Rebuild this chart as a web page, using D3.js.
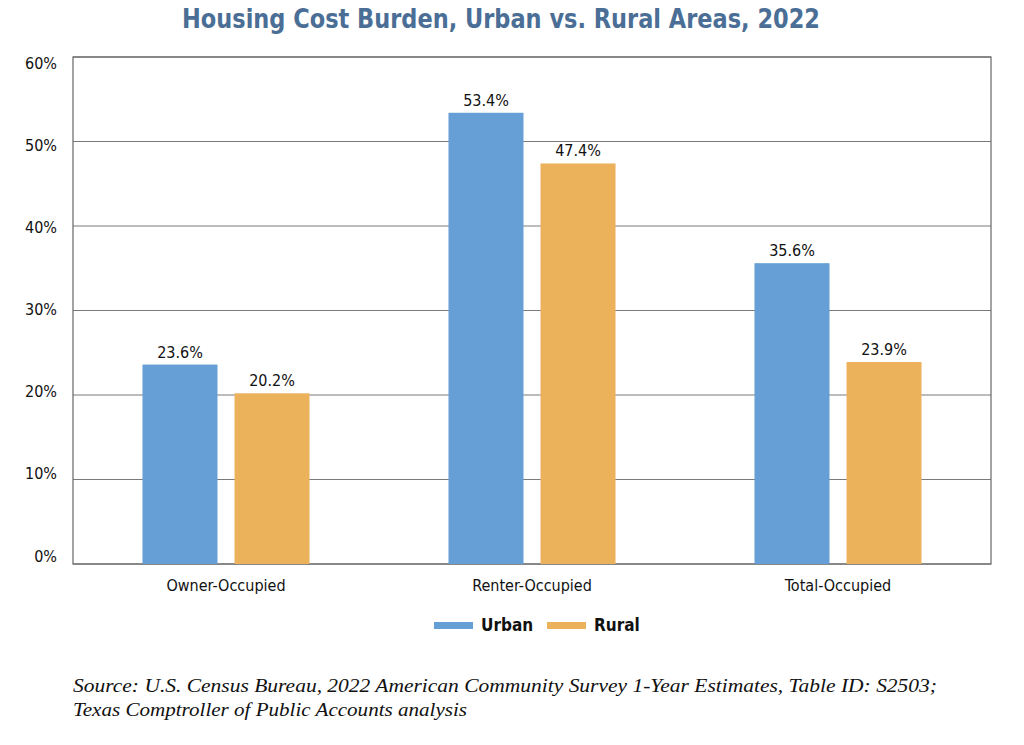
<!DOCTYPE html>
<html>
<head>
<meta charset="utf-8">
<script src="https://cdn.jsdelivr.net/npm/d3@7"></script>
<style>
  body { margin: 0; background: #fff; }
  svg { display: block; }
</style>
</head>
<body>
<div id="chart"></div>
<script>
const categories = ["Owner-Occupied", "Renter-Occupied", "Total-Occupied"];
const seriesNames = ["Urban", "Rural"];
const urbanValues = [23.6, 53.4, 35.6];
const ruralValues = [20.2, 47.4, 23.9];
const yTicks = [0, 10, 20, 30, 40, 50, 60];

function drawChart() {
  const width = 1024;
  const height = 745;
  const margin = { top: 57, right: 33, bottom: 181, left: 73 };
  const colors = { Urban: "#659fd5", Rural: "#ecb15b" };
  const labelFont = "'Liberation Sans Narrow', 'DejaVu Sans Condensed', 'Open Sans', sans-serif";

  const svg = d3.select("#chart")
    .append("svg")
    .attr("width", width)
    .attr("height", height);

  const rows = categories.map((c, i) => ({
    category: c,
    values: [
      { key: "Urban", value: urbanValues[i] },
      { key: "Rural", value: ruralValues[i] }
    ]
  }));

  const x0 = d3.scaleBand()
    .domain(categories)
    .range([margin.left, width - margin.right]);

  const x1 = d3.scaleBand()
    .domain(seriesNames)
    .range([0, x0.bandwidth()])
    .paddingInner(0.185)
    .paddingOuter(0.755);

  const y = d3.scaleLinear()
    .domain([0, 60])
    .range([height - margin.bottom, margin.top]);

  // tick labels sit a little inside the frame at top and bottom
  const yLabel = d3.scaleLinear()
    .domain([0, 60])
    .range([height - margin.bottom - 8, margin.top + 6]);

  // gridlines
  svg.append("g")
    .selectAll("line")
    .data(yTicks)
    .join("line")
    .attr("x1", margin.left)
    .attr("x2", width - margin.right)
    .attr("y1", d => y(d))
    .attr("y2", d => y(d))
    .attr("stroke", "#7a7a7a")
    .attr("stroke-width", 1.2);

  // frame
  svg.append("rect")
    .attr("x", margin.left)
    .attr("y", margin.top)
    .attr("width", width - margin.left - margin.right)
    .attr("height", height - margin.top - margin.bottom)
    .attr("fill", "none")
    .attr("stroke", "#666")
    .attr("stroke-width", 1.2);

  // bars
  const groups = svg.append("g")
    .selectAll("g")
    .data(rows)
    .join("g")
    .attr("transform", d => `translate(${x0(d.category)},0)`);

  groups.selectAll("rect")
    .data(d => d.values)
    .join("rect")
    .attr("x", d => x1(d.key))
    .attr("y", d => y(d.value))
    .attr("width", x1.bandwidth())
    .attr("height", d => y(0) - y(d.value))
    .attr("fill", d => colors[d.key]);

  groups.selectAll("text")
    .data(d => d.values)
    .join("text")
    .attr("x", d => x1(d.key) + x1.bandwidth() / 2)
    .attr("y", d => y(d.value) - 7)
    .attr("text-anchor", "middle")
    .style("font-family", labelFont)
    .style("font-size", "16px")
    .style("fill", "#111")
    .text(d => d.value.toFixed(1) + "%");

  // y axis labels
  const yAxis = svg.append("g")
    .attr("transform", `translate(${margin.left},0)`)
    .call(d3.axisLeft(yLabel).tickValues(yTicks).tickSize(0).tickPadding(16).tickFormat(d => d + "%"));
  yAxis.select(".domain").remove();
  yAxis.selectAll("text")
    .style("font-family", labelFont)
    .style("font-size", "16px")
    .style("fill", "#111");

  // x axis labels
  const xAxis = svg.append("g")
    .attr("transform", `translate(0,${height - margin.bottom})`)
    .call(d3.axisBottom(x0).tickSize(0).tickPadding(16));
  xAxis.select(".domain").remove();
  xAxis.selectAll("text")
    .style("font-family", labelFont)
    .style("font-size", "16px")
    .style("fill", "#111");

  // title
  svg.append("text")
    .attr("x", 501)
    .attr("y", 28)
    .attr("text-anchor", "middle")
    .attr("textLength", 638)
    .attr("lengthAdjust", "spacingAndGlyphs")
    .style("font-family", labelFont)
    .style("font-weight", "bold")
    .style("font-size", "27px")
    .style("fill", "#4a6e95")
    .text("Housing Cost Burden, Urban vs. Rural Areas, 2022");

  // legend
  const legend = svg.append("g").attr("transform", "translate(434,625)");
  const legendX = { Urban: 0, Rural: 113 };
  seriesNames.forEach(name => {
    legend.append("rect")
      .attr("x", legendX[name])
      .attr("y", -3)
      .attr("width", 39)
      .attr("height", 7)
      .attr("fill", colors[name]);
    legend.append("text")
      .attr("x", legendX[name] + 47)
      .attr("y", 6)
      .style("font-family", labelFont)
      .style("font-weight", "bold")
      .style("font-size", "17px")
      .style("fill", "#111")
      .text(name);
  });

  // source note
  const src = svg.append("text")
    .style("font-family", "'Liberation Serif', 'DejaVu Serif', serif")
    .style("font-style", "italic")
    .style("font-size", "19px")
    .style("fill", "#111");
  src.append("tspan")
    .attr("x", 73)
    .attr("y", 692)
    .attr("textLength", 864)
    .attr("lengthAdjust", "spacingAndGlyphs")
    .text("Source: U.S. Census Bureau, 2022 American Community Survey 1-Year Estimates, Table ID: S2503;");
  src.append("tspan")
    .attr("x", 73)
    .attr("y", 716)
    .attr("textLength", 394)
    .attr("lengthAdjust", "spacingAndGlyphs")
    .text("Texas Comptroller of Public Accounts analysis");
}

drawChart();
</script>
</body>
</html>
